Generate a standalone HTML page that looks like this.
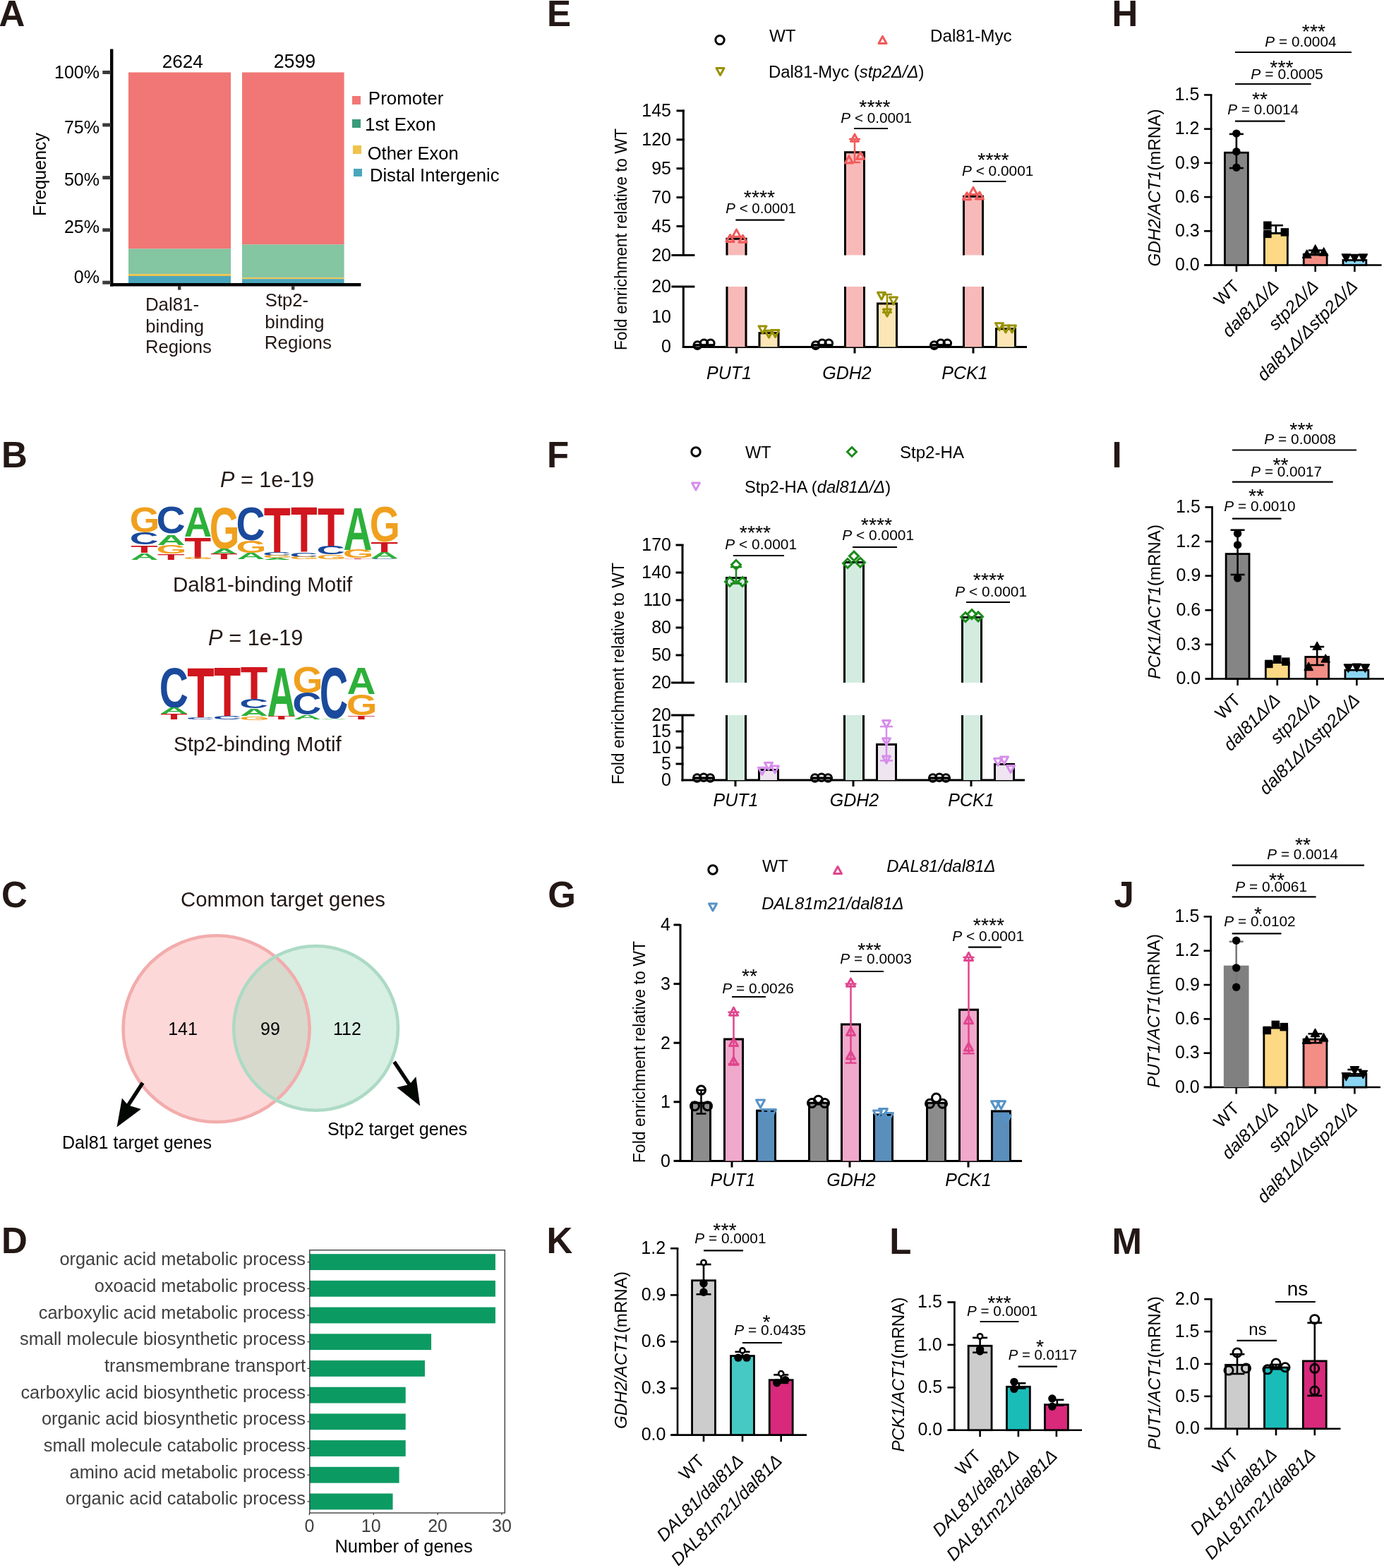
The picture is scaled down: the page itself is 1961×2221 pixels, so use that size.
<!DOCTYPE html>
<html><head><meta charset="utf-8"><title>Figure</title>
<style>
html,body{margin:0;padding:0;background:#fff;width:1961px;height:2221px;overflow:hidden}
svg{display:block}
text{font-family:'Liberation Sans', Arial, Helvetica, sans-serif}
</style></head><body>
<svg width="1961" height="2221" viewBox="0 0 1961 2221">
<rect width="1961" height="2221" fill="#fff"/>
<g>
<text x="-1.5" y="37" font-size="51" fill="#231815" font-weight="bold">A</text>
<rect x="182" y="102.5" width="145" height="250" fill="#F07775"/>
<rect x="182" y="352.4" width="145" height="35.8" fill="#84C5A2"/>
<rect x="182" y="388.2" width="145" height="2.8" fill="#F0C34A"/>
<rect x="182" y="391" width="145" height="10.5" fill="#4AA6BB"/>
<rect x="343" y="102.5" width="144.6" height="244" fill="#F07775"/>
<rect x="343" y="346.4" width="144.6" height="46.8" fill="#84C5A2"/>
<rect x="343" y="393.2" width="144.6" height="2" fill="#F0C34A"/>
<rect x="343" y="395.2" width="144.6" height="6.3" fill="#4AA6BB"/>
<line x1="158.2" y1="69.4" x2="158.2" y2="405.6" stroke="#000" stroke-width="4.4"/>
<line x1="156" y1="403.3" x2="511.4" y2="403.3" stroke="#000" stroke-width="4.6"/>
<line x1="145.3" y1="102.5" x2="157" y2="102.5" stroke="#3a3a3a" stroke-width="5"/>
<line x1="145.3" y1="177" x2="157" y2="177" stroke="#3a3a3a" stroke-width="5"/>
<line x1="145.3" y1="251.6" x2="157" y2="251.6" stroke="#3a3a3a" stroke-width="5"/>
<line x1="145.3" y1="325.8" x2="157" y2="325.8" stroke="#3a3a3a" stroke-width="5"/>
<line x1="145.3" y1="400.2" x2="157" y2="400.2" stroke="#3a3a3a" stroke-width="5"/>
<line x1="254.2" y1="405" x2="254.2" y2="410.6" stroke="#3a3a3a" stroke-width="4.4"/>
<line x1="415.2" y1="405" x2="415.2" y2="410.6" stroke="#3a3a3a" stroke-width="4.4"/>
<text x="141" y="111.1" font-size="25" text-anchor="end">100%</text>
<text x="141" y="189" font-size="25" text-anchor="end">75%</text>
<text x="141" y="263" font-size="25" text-anchor="end">50%</text>
<text x="141" y="330.3" font-size="25" text-anchor="end">25%</text>
<text x="141" y="401" font-size="25" text-anchor="end">0%</text>
<text x="65.3" y="247" font-size="25" text-anchor="middle" transform="rotate(-90 65.3 247)">Frequency</text>
<text x="229.69" y="96" font-size="26.11">2624</text>
<text x="387.65" y="96" font-size="26.8">2599</text>
<text x="205.88" y="440" font-size="25.89" fill="#231815">Dal81-</text>
<text x="206.35" y="471" font-size="25.64" fill="#231815">binding</text>
<text x="205.9" y="500" font-size="25.63" fill="#231815">Regions</text>
<text x="375.84" y="433.6" font-size="25.65" fill="#231815">Stp2-</text>
<text x="375.31" y="465" font-size="26.16" fill="#231815">binding</text>
<text x="374.87" y="494" font-size="25.91" fill="#231815">Regions</text>
<rect x="499" y="136" width="12" height="12" fill="#F07775"/>
<rect x="499" y="169" width="12" height="12" fill="#3A9B7A"/>
<rect x="500" y="206" width="12" height="12" fill="#F0C34A"/>
<rect x="501" y="239" width="12" height="11" fill="#4AA6BB"/>
<text x="521.87" y="148" font-size="25.91">Promoter</text>
<text x="517.03" y="185" font-size="25.87">1st Exon</text>
<text x="520.79" y="226" font-size="25.48">Other Exon</text>
<text x="523.9" y="257" font-size="25.63">Distal Intergenic</text>
</g>
<g>
<text x="2" y="662" font-size="51" fill="#231815" font-weight="bold">B</text>
<text transform="translate(183.75 753.80) scale(0.5483 0.5085)" font-size="100" font-weight="bold" fill="#F0A01E">G</text>
<text transform="translate(183.68 770.77) scale(0.5659 0.2330)" font-size="100" font-weight="bold" fill="#1A4A9C">C</text>
<text transform="translate(185.29 782.50) scale(0.6283 0.1555)" font-size="100" font-weight="bold" fill="#D0161E">T</text>
<text transform="translate(184.63 792.50) scale(0.5515 0.1235)" font-size="100" font-weight="bold" fill="#2DB03A">A</text>
<text transform="translate(221.47 755.47) scale(0.5690 0.5410)" font-size="100" font-weight="bold" fill="#1A4A9C">C</text>
<text transform="translate(222.42 771.50) scale(0.5545 0.2108)" font-size="100" font-weight="bold" fill="#2DB03A">A</text>
<text transform="translate(221.54 783.55) scale(0.5513 0.1568)" font-size="100" font-weight="bold" fill="#F0A01E">G</text>
<text transform="translate(223.09 792.50) scale(0.6317 0.1177)" font-size="100" font-weight="bold" fill="#D0161E">T</text>
<text transform="translate(260.64 759.80) scale(0.5455 0.5959)" font-size="100" font-weight="bold" fill="#2DB03A">A</text>
<text transform="translate(261.30 790.50) scale(0.6215 0.4288)" font-size="100" font-weight="bold" fill="#D0161E">T</text>
<text transform="translate(259.78 792.28) scale(0.5424 0.0254)" font-size="100" font-weight="bold" fill="#F0A01E">G</text>
<text transform="translate(296.75 776.79) scale(0.5483 0.8305)" font-size="100" font-weight="bold" fill="#F0A01E">G</text>
<text transform="translate(297.63 784.80) scale(0.5515 0.1017)" font-size="100" font-weight="bold" fill="#2DB03A">A</text>
<text transform="translate(298.29 792.00) scale(0.6283 0.1032)" font-size="100" font-weight="bold" fill="#D0161E">T</text>
<text transform="translate(334.47 764.75) scale(0.5690 0.6652)" font-size="100" font-weight="bold" fill="#1A4A9C">C</text>
<text transform="translate(334.54 782.77) scale(0.5513 0.2401)" font-size="100" font-weight="bold" fill="#F0A01E">G</text>
<text transform="translate(335.42 792.00) scale(0.5545 0.1279)" font-size="100" font-weight="bold" fill="#2DB03A">A</text>
<text transform="translate(373.70 782.50) scale(0.6215 0.9084)" font-size="100" font-weight="bold" fill="#D0161E">T</text>
<text transform="translate(372.10 786.94) scale(0.5598 0.0636)" font-size="100" font-weight="bold" fill="#1A4A9C">C</text>
<text transform="translate(372.18 790.16) scale(0.5424 0.0452)" font-size="100" font-weight="bold" fill="#F0A01E">G</text>
<text transform="translate(373.04 792.50) scale(0.5455 0.0320)" font-size="100" font-weight="bold" fill="#2DB03A">A</text>
<text transform="translate(412.01 782.00) scale(0.6164 0.9012)" font-size="100" font-weight="bold" fill="#D0161E">T</text>
<text transform="translate(410.42 788.51) scale(0.5552 0.0932)" font-size="100" font-weight="bold" fill="#1A4A9C">C</text>
<text transform="translate(410.49 791.95) scale(0.5379 0.0480)" font-size="100" font-weight="bold" fill="#F0A01E">G</text>
<text transform="translate(450.00 773.70) scale(0.6249 0.7805)" font-size="100" font-weight="bold" fill="#D0161E">T</text>
<text transform="translate(448.39 785.14) scale(0.5629 0.1638)" font-size="100" font-weight="bold" fill="#1A4A9C">C</text>
<text transform="translate(448.46 791.92) scale(0.5453 0.0847)" font-size="100" font-weight="bold" fill="#F0A01E">G</text>
<text transform="translate(486.59 778.70) scale(0.5664 0.8532)" font-size="100" font-weight="bold" fill="#2DB03A">A</text>
<text transform="translate(485.69 790.14) scale(0.5631 0.1596)" font-size="100" font-weight="bold" fill="#F0A01E">G</text>
<text transform="translate(487.28 792.00) scale(0.6453 0.0247)" font-size="100" font-weight="bold" fill="#D0161E">T</text>
<text transform="translate(523.73 766.91) scale(0.5542 0.7048)" font-size="100" font-weight="bold" fill="#F0A01E">G</text>
<text transform="translate(525.29 782.00) scale(0.6351 0.2093)" font-size="100" font-weight="bold" fill="#D0161E">T</text>
<text transform="translate(524.61 791.40) scale(0.5575 0.1294)" font-size="100" font-weight="bold" fill="#2DB03A">A</text>
<text transform="translate(523.65 792.48) scale(0.5720 0.0155)" font-size="100" font-weight="bold" fill="#1A4A9C">C</text>
<text transform="translate(225.67 1001.62) scale(0.5690 0.7966)" font-size="100" font-weight="bold" fill="#1A4A9C">C</text>
<text transform="translate(226.62 1010.80) scale(0.5545 0.1221)" font-size="100" font-weight="bold" fill="#2DB03A">A</text>
<text transform="translate(227.29 1018.80) scale(0.6317 0.1163)" font-size="100" font-weight="bold" fill="#D0161E">T</text>
<text transform="translate(265.29 1015.70) scale(0.6283 0.9986)" font-size="100" font-weight="bold" fill="#D0161E">T</text>
<text transform="translate(263.68 1018.76) scale(0.5659 0.0438)" font-size="100" font-weight="bold" fill="#1A4A9C">C</text>
<text transform="translate(303.10 1014.00) scale(0.6249 0.9739)" font-size="100" font-weight="bold" fill="#D0161E">T</text>
<text transform="translate(301.49 1018.73) scale(0.5629 0.0678)" font-size="100" font-weight="bold" fill="#1A4A9C">C</text>
<text transform="translate(340.79 990.00) scale(0.6317 0.6395)" font-size="100" font-weight="bold" fill="#D0161E">T</text>
<text transform="translate(339.17 1003.12) scale(0.5690 0.1879)" font-size="100" font-weight="bold" fill="#1A4A9C">C</text>
<text transform="translate(340.12 1014.00) scale(0.5545 0.1497)" font-size="100" font-weight="bold" fill="#2DB03A">A</text>
<text transform="translate(339.24 1019.63) scale(0.5513 0.0763)" font-size="100" font-weight="bold" fill="#F0A01E">G</text>
<text transform="translate(378.50 1014.00) scale(0.5619 0.9739)" font-size="100" font-weight="bold" fill="#2DB03A">A</text>
<text transform="translate(379.18 1018.80) scale(0.6402 0.0698)" font-size="100" font-weight="bold" fill="#D0161E">T</text>
<text transform="translate(414.43 981.00) scale(0.5528 0.5127)" font-size="100" font-weight="bold" fill="#F0A01E">G</text>
<text transform="translate(414.36 1012.17) scale(0.5705 0.4393)" font-size="100" font-weight="bold" fill="#1A4A9C">C</text>
<text transform="translate(415.32 1018.80) scale(0.5560 0.0901)" font-size="100" font-weight="bold" fill="#2DB03A">A</text>
<text transform="translate(452.70 1017.01) scale(0.5598 1.0169)" font-size="100" font-weight="bold" fill="#1A4A9C">C</text>
<text transform="translate(453.64 1019.00) scale(0.5455 0.0218)" font-size="100" font-weight="bold" fill="#2DB03A">A</text>
<text transform="translate(491.59 983.00) scale(0.5664 0.5378)" font-size="100" font-weight="bold" fill="#2DB03A">A</text>
<text transform="translate(490.69 1013.09) scale(0.5631 0.4195)" font-size="100" font-weight="bold" fill="#F0A01E">G</text>
<text transform="translate(492.28 1018.80) scale(0.6453 0.0770)" font-size="100" font-weight="bold" fill="#D0161E">T</text>
<text x="312.06" y="690" font-size="30.56" fill="#231815"><tspan font-style="italic">P</tspan><tspan> = 1e-19</tspan></text>
<text x="245" y="838.4" font-size="29.5" fill="#231815">Dal81-binding Motif</text>
<text x="295.05" y="914" font-size="30.8" fill="#231815"><tspan font-style="italic">P</tspan><tspan> = 1e-19</tspan></text>
<text x="246" y="1064" font-size="29.5" fill="#231815">Stp2-binding Motif</text>
</g>
<g>
<text x="2" y="1285" font-size="51" fill="#231815" font-weight="bold">C</text>
<text x="401" y="1284" font-size="29.3" text-anchor="middle" fill="#231815">Common target genes</text>
<circle cx="306.6" cy="1457.3" r="132" fill="#FDD8D8"/>
<circle cx="447.6" cy="1456.4" r="116.4" fill="#A8DCC0" fill-opacity="0.45"/>
<circle cx="306.6" cy="1457.3" r="132" fill="none" stroke="#F2ACAC" stroke-width="4.6"/>
<circle cx="447.6" cy="1456.4" r="116.4" fill="none" stroke="#ACDAC4" stroke-width="4.6"/>
<text x="259" y="1466" font-size="25" text-anchor="middle">141</text>
<text x="383" y="1466" font-size="25" text-anchor="middle">99</text>
<text x="492" y="1466" font-size="25" text-anchor="middle">112</text>
<line x1="202.2" y1="1533.7" x2="180" y2="1568" stroke="#030803" stroke-width="5.3"/>
<polygon points="172.9,1555.6 181.5,1565.4 199.8,1570.9 165.6,1596.5" fill="#030803"/>
<line x1="558.6" y1="1504" x2="582" y2="1539" stroke="#030803" stroke-width="5.3"/>
<polygon points="589.4,1525 580.3,1535.9 562.2,1540.3 595.2,1566.5" fill="#030803"/>
<text x="88" y="1627" font-size="25.1">Dal81 target genes</text>
<text x="464" y="1608" font-size="25.1">Stp2 target genes</text>
</g>
<g>
<text x="2" y="1775" font-size="51" fill="#231815" font-weight="bold">D</text>
<rect x="438.8" y="1776.2" width="263.12" height="22.8" fill="#0C9A63"/>
<line x1="435.4" y1="1787.6" x2="438.8" y2="1787.6" stroke="#333" stroke-width="1.2"/>
<text x="433" y="1792.1" font-size="25.4" text-anchor="end" fill="#404040">organic acid metabolic process</text>
<rect x="438.8" y="1813.9" width="263.12" height="22.8" fill="#0C9A63"/>
<line x1="435.4" y1="1825.3" x2="438.8" y2="1825.3" stroke="#333" stroke-width="1.2"/>
<text x="433" y="1829.8" font-size="25.4" text-anchor="end" fill="#404040">oxoacid metabolic process</text>
<rect x="438.8" y="1851.6" width="263.12" height="22.8" fill="#0C9A63"/>
<line x1="435.4" y1="1863" x2="438.8" y2="1863" stroke="#333" stroke-width="1.2"/>
<text x="433" y="1867.5" font-size="25.4" text-anchor="end" fill="#404040">carboxylic acid metabolic process</text>
<rect x="438.8" y="1889.3" width="172.25" height="22.8" fill="#0C9A63"/>
<line x1="435.4" y1="1900.7" x2="438.8" y2="1900.7" stroke="#333" stroke-width="1.2"/>
<text x="433" y="1905.2" font-size="25.4" text-anchor="end" fill="#404040">small molecule biosynthetic process</text>
<rect x="438.8" y="1927" width="163.17" height="22.8" fill="#0C9A63"/>
<line x1="435.4" y1="1938.4" x2="438.8" y2="1938.4" stroke="#333" stroke-width="1.2"/>
<text x="433" y="1942.9" font-size="25.4" text-anchor="end" fill="#404040">transmembrane transport</text>
<rect x="438.8" y="1964.7" width="135.91" height="22.8" fill="#0C9A63"/>
<line x1="435.4" y1="1976.1" x2="438.8" y2="1976.1" stroke="#333" stroke-width="1.2"/>
<text x="433" y="1980.6" font-size="25.4" text-anchor="end" fill="#404040">carboxylic acid biosynthetic process</text>
<rect x="438.8" y="2002.4" width="135.91" height="22.8" fill="#0C9A63"/>
<line x1="435.4" y1="2013.8" x2="438.8" y2="2013.8" stroke="#333" stroke-width="1.2"/>
<text x="433" y="2018.3" font-size="25.4" text-anchor="end" fill="#404040">organic acid biosynthetic process</text>
<rect x="438.8" y="2040.1" width="135.91" height="22.8" fill="#0C9A63"/>
<line x1="435.4" y1="2051.5" x2="438.8" y2="2051.5" stroke="#333" stroke-width="1.2"/>
<text x="433" y="2056" font-size="25.4" text-anchor="end" fill="#404040">small molecule catabolic process</text>
<rect x="438.8" y="2077.8" width="126.82" height="22.8" fill="#0C9A63"/>
<line x1="435.4" y1="2089.2" x2="438.8" y2="2089.2" stroke="#333" stroke-width="1.2"/>
<text x="433" y="2093.7" font-size="25.4" text-anchor="end" fill="#404040">amino acid metabolic process</text>
<rect x="438.8" y="2115.5" width="117.73" height="22.8" fill="#0C9A63"/>
<line x1="435.4" y1="2126.9" x2="438.8" y2="2126.9" stroke="#333" stroke-width="1.2"/>
<text x="433" y="2131.4" font-size="25.4" text-anchor="end" fill="#404040">organic acid catabolic process</text>
<rect x="438.8" y="1770.7" width="276.5" height="372.3" fill="none" stroke="#333" stroke-width="1.3"/>
<line x1="438.4" y1="2143" x2="438.4" y2="2146" stroke="#333" stroke-width="1.2"/>
<text x="438.4" y="2170" font-size="25" text-anchor="middle" fill="#404040">0</text>
<line x1="529.27" y1="2143" x2="529.27" y2="2146" stroke="#333" stroke-width="1.2"/>
<text x="525.77" y="2170" font-size="25" text-anchor="middle" fill="#404040">10</text>
<line x1="620.14" y1="2143" x2="620.14" y2="2146" stroke="#333" stroke-width="1.2"/>
<text x="620.14" y="2170" font-size="25" text-anchor="middle" fill="#404040">20</text>
<line x1="711.01" y1="2143" x2="711.01" y2="2146" stroke="#333" stroke-width="1.2"/>
<text x="711.01" y="2170" font-size="25" text-anchor="middle" fill="#404040">30</text>
<text x="474.41" y="2199" font-size="25.46">Number of genes</text>
</g>
<g>
<text x="774.98" y="37" font-size="51" fill="#231815" font-weight="bold">E</text>
<circle cx="1020" cy="56.6" r="6.2" fill="#fff" stroke="#000" stroke-width="3"/>
<polygon points="1250.5,51.5 1245,61.5 1256,61.5" fill="none" stroke="#F15A5A" stroke-width="3" stroke-linejoin="round"/>
<polygon points="1020.5,106.5 1015,96.5 1026,96.5" fill="none" stroke="#999100" stroke-width="3" stroke-linejoin="round"/>
<text x="1089.89" y="58.6" font-size="24.23">WT</text>
<text x="1318.02" y="59" font-size="24.19">Dal81-Myc</text>
<text x="1089.04" y="110" font-size="23.88"><tspan>Dal81-Myc (</tspan><tspan font-style="italic">stp2Δ/Δ</tspan><tspan>)</tspan></text>
<line x1="968.3" y1="155.6" x2="968.3" y2="361.4" stroke="#000" stroke-width="3"/>
<line x1="968.3" y1="406" x2="968.3" y2="492.9" stroke="#000" stroke-width="3"/>
<line x1="958.5" y1="156.9" x2="969.8" y2="156.9" stroke="#000" stroke-width="3"/>
<line x1="958.5" y1="197.8" x2="969.8" y2="197.8" stroke="#000" stroke-width="3"/>
<line x1="958.5" y1="238.7" x2="969.8" y2="238.7" stroke="#000" stroke-width="3"/>
<line x1="958.5" y1="279.6" x2="969.8" y2="279.6" stroke="#000" stroke-width="3"/>
<line x1="958.5" y1="320.5" x2="969.8" y2="320.5" stroke="#000" stroke-width="3"/>
<line x1="951.4" y1="361.4" x2="984.4" y2="361.4" stroke="#000" stroke-width="3"/>
<line x1="951.4" y1="406" x2="984.4" y2="406" stroke="#000" stroke-width="3"/>
<line x1="966.8" y1="491.4" x2="1455" y2="491.4" stroke="#000" stroke-width="3"/>
<text x="951" y="165.2" font-size="25" text-anchor="end">145</text>
<text x="951" y="206.1" font-size="25" text-anchor="end">120</text>
<text x="951" y="247" font-size="25" text-anchor="end">95</text>
<text x="951" y="287.9" font-size="25" text-anchor="end">70</text>
<text x="951" y="328.8" font-size="25" text-anchor="end">45</text>
<text x="951" y="369.7" font-size="25" text-anchor="end">20</text>
<text x="951" y="414.4" font-size="25" text-anchor="end">20</text>
<text x="951" y="456.9" font-size="25" text-anchor="end">10</text>
<text x="951" y="499.4" font-size="25" text-anchor="end">0</text>
<text x="888" y="339" font-size="23.1" text-anchor="middle" transform="rotate(-90 888 339)">Fold enrichment relative to WT</text>
<line x1="1043.5" y1="491.4" x2="1043.5" y2="500.5" stroke="#000" stroke-width="3"/>
<rect x="982.5" y="487.15" width="30" height="4.25" fill="#808080"/>
<path d="M984 491.4 L984 488.65 L1011 488.65 L1011 491.4" fill="none" stroke="#000" stroke-width="3" stroke-linejoin="miter"/>
<rect x="1028.5" y="336.86" width="30" height="24.54" fill="#F8BAB8"/>
<path d="M1030 361.4 L1030 338.36 L1057 338.36 L1057 361.4" fill="none" stroke="#000" stroke-width="3" stroke-linejoin="miter"/>
<rect x="1028.5" y="406" width="30" height="85.4" fill="#F8BAB8"/>
<path d="M1030 491.4 L1030 406 M1057 406 L1057 491.4" fill="none" stroke="#000" stroke-width="3" stroke-linejoin="miter"/>
<rect x="1074.5" y="470.15" width="30" height="21.25" fill="#FCE6B6"/>
<path d="M1076 491.4 L1076 471.65 L1103 471.65 L1103 491.4" fill="none" stroke="#000" stroke-width="3" stroke-linejoin="miter"/>
<circle cx="988.2" cy="489.1" r="5.3" fill="none" stroke="#000" stroke-width="3"/>
<circle cx="997.5" cy="486.3" r="5.3" fill="none" stroke="#000" stroke-width="3"/>
<circle cx="1006.8" cy="486.3" r="5.3" fill="none" stroke="#000" stroke-width="3"/>
<polygon points="1043.5,325.13 1038,335.13 1049,335.13" fill="none" stroke="#F15A5A" stroke-width="3" stroke-linejoin="round"/>
<polygon points="1034.5,332.5 1029,342.5 1040,342.5" fill="none" stroke="#F15A5A" stroke-width="3" stroke-linejoin="round"/>
<polygon points="1052.5,333.31 1047,343.31 1058,343.31" fill="none" stroke="#F15A5A" stroke-width="3" stroke-linejoin="round"/>
<polygon points="1080.5,471.9 1075,461.9 1086,461.9" fill="none" stroke="#999100" stroke-width="3" stroke-linejoin="round"/>
<polygon points="1089.5,478.27 1084,468.27 1095,468.27" fill="none" stroke="#999100" stroke-width="3" stroke-linejoin="round"/>
<polygon points="1098.5,477.42 1093,467.42 1104,467.42" fill="none" stroke="#999100" stroke-width="3" stroke-linejoin="round"/>
<line x1="1211" y1="491.4" x2="1211" y2="500.5" stroke="#000" stroke-width="3"/>
<rect x="1150" y="487.15" width="30" height="4.25" fill="#808080"/>
<path d="M1151.5 491.4 L1151.5 488.65 L1178.5 488.65 L1178.5 491.4" fill="none" stroke="#000" stroke-width="3" stroke-linejoin="miter"/>
<rect x="1196" y="214.32" width="30" height="147.08" fill="#F8BAB8"/>
<path d="M1197.5 361.4 L1197.5 215.82 L1224.5 215.82 L1224.5 361.4" fill="none" stroke="#000" stroke-width="3" stroke-linejoin="miter"/>
<rect x="1196" y="406" width="30" height="85.4" fill="#F8BAB8"/>
<path d="M1197.5 491.4 L1197.5 406 M1224.5 406 L1224.5 491.4" fill="none" stroke="#000" stroke-width="3" stroke-linejoin="miter"/>
<rect x="1242" y="428.5" width="30" height="62.9" fill="#FCE6B6"/>
<path d="M1243.5 491.4 L1243.5 430 L1270.5 430 L1270.5 491.4" fill="none" stroke="#000" stroke-width="3" stroke-linejoin="miter"/>
<circle cx="1155.7" cy="489.1" r="5.3" fill="none" stroke="#000" stroke-width="3"/>
<circle cx="1165" cy="486.3" r="5.3" fill="none" stroke="#000" stroke-width="3"/>
<circle cx="1174.3" cy="486.3" r="5.3" fill="none" stroke="#000" stroke-width="3"/>
<line x1="1211" y1="196.98" x2="1211" y2="230.03" stroke="#F15A5A" stroke-width="2.5"/>
<line x1="1203" y1="196.98" x2="1219" y2="196.98" stroke="#F15A5A" stroke-width="2.5"/>
<line x1="1203" y1="230.03" x2="1219" y2="230.03" stroke="#F15A5A" stroke-width="2.5"/>
<polygon points="1211,190.16 1205.5,200.16 1216.5,200.16" fill="none" stroke="#F15A5A" stroke-width="3" stroke-linejoin="round"/>
<polygon points="1202.9,220.92 1197.4,230.92 1208.4,230.92" fill="none" stroke="#F15A5A" stroke-width="3" stroke-linejoin="round"/>
<polygon points="1219.1,215.36 1213.6,225.36 1224.6,225.36" fill="none" stroke="#F15A5A" stroke-width="3" stroke-linejoin="round"/>
<line x1="1257" y1="417.02" x2="1257" y2="442.52" stroke="#999100" stroke-width="2.5"/>
<line x1="1250" y1="417.02" x2="1264" y2="417.02" stroke="#999100" stroke-width="2.5"/>
<line x1="1250" y1="442.52" x2="1264" y2="442.52" stroke="#999100" stroke-width="2.5"/>
<polygon points="1249,424.3 1243.5,414.3 1254.5,414.3" fill="none" stroke="#999100" stroke-width="3" stroke-linejoin="round"/>
<polygon points="1266,431.1 1260.5,421.1 1271.5,421.1" fill="none" stroke="#999100" stroke-width="3" stroke-linejoin="round"/>
<polygon points="1257,448.1 1251.5,438.1 1262.5,438.1" fill="none" stroke="#999100" stroke-width="3" stroke-linejoin="round"/>
<line x1="1379" y1="491.4" x2="1379" y2="500.5" stroke="#000" stroke-width="3"/>
<rect x="1318" y="487.15" width="30" height="4.25" fill="#808080"/>
<path d="M1319.5 491.4 L1319.5 488.65 L1346.5 488.65 L1346.5 491.4" fill="none" stroke="#000" stroke-width="3" stroke-linejoin="miter"/>
<rect x="1364" y="276.66" width="30" height="84.74" fill="#F8BAB8"/>
<path d="M1365.5 361.4 L1365.5 278.16 L1392.5 278.16 L1392.5 361.4" fill="none" stroke="#000" stroke-width="3" stroke-linejoin="miter"/>
<rect x="1364" y="406" width="30" height="85.4" fill="#F8BAB8"/>
<path d="M1365.5 491.4 L1365.5 406 M1392.5 406 L1392.5 491.4" fill="none" stroke="#000" stroke-width="3" stroke-linejoin="miter"/>
<rect x="1410" y="464.2" width="30" height="27.2" fill="#FCE6B6"/>
<path d="M1411.5 491.4 L1411.5 465.7 L1438.5 465.7 L1438.5 491.4" fill="none" stroke="#000" stroke-width="3" stroke-linejoin="miter"/>
<circle cx="1323.7" cy="489.1" r="5.3" fill="none" stroke="#000" stroke-width="3"/>
<circle cx="1333" cy="486.3" r="5.3" fill="none" stroke="#000" stroke-width="3"/>
<circle cx="1342.3" cy="486.3" r="5.3" fill="none" stroke="#000" stroke-width="3"/>
<polygon points="1379,265.42 1373.5,275.42 1384.5,275.42" fill="none" stroke="#F15A5A" stroke-width="3" stroke-linejoin="round"/>
<polygon points="1370,272.78 1364.5,282.78 1375.5,282.78" fill="none" stroke="#F15A5A" stroke-width="3" stroke-linejoin="round"/>
<polygon points="1388,271.96 1382.5,281.96 1393.5,281.96" fill="none" stroke="#F15A5A" stroke-width="3" stroke-linejoin="round"/>
<polygon points="1416,467.65 1410.5,457.65 1421.5,457.65" fill="none" stroke="#999100" stroke-width="3" stroke-linejoin="round"/>
<polygon points="1425,471.05 1419.5,461.05 1430.5,461.05" fill="none" stroke="#999100" stroke-width="3" stroke-linejoin="round"/>
<polygon points="1434,471.05 1428.5,461.05 1439.5,461.05" fill="none" stroke="#999100" stroke-width="3" stroke-linejoin="round"/>
<text x="1076" y="288.61" font-size="28.5" text-anchor="middle">****</text>
<text x="1028.37" y="302" font-size="20.48"><tspan font-style="italic">P</tspan><tspan> &lt; 0.0001</tspan></text>
<line x1="1042.4" y1="311.6" x2="1111.6" y2="311.6" stroke="#000" stroke-width="2.2"/>
<text x="1239.5" y="160.61" font-size="28.5" text-anchor="middle">****</text>
<text x="1191.36" y="174" font-size="20.69"><tspan font-style="italic">P</tspan><tspan> &lt; 0.0001</tspan></text>
<line x1="1210" y1="182" x2="1258" y2="182" stroke="#000" stroke-width="2.2"/>
<text x="1407.5" y="235.61" font-size="28.5" text-anchor="middle">****</text>
<text x="1362.96" y="248.6" font-size="20.85"><tspan font-style="italic">P</tspan><tspan> &lt; 0.0001</tspan></text>
<line x1="1378" y1="257" x2="1425.4" y2="257" stroke="#000" stroke-width="2.2"/>
<text x="1033" y="537.4" font-size="25" text-anchor="middle" font-style="italic">PUT1</text>
<text x="1200" y="537.4" font-size="25" text-anchor="middle" font-style="italic">GDH2</text>
<text x="1367" y="537.4" font-size="25" text-anchor="middle" font-style="italic">PCK1</text>
</g>
<g>
<text x="774.98" y="662" font-size="51" fill="#231815" font-weight="bold">F</text>
<circle cx="986" cy="640" r="6.2" fill="#fff" stroke="#000" stroke-width="3"/>
<polygon points="1207,633.5 1213.5,640 1207,646.5 1200.5,640" fill="none" stroke="#1B8C1B" stroke-width="3"/>
<polygon points="986,694 980.5,684 991.5,684" fill="none" stroke="#D68EEA" stroke-width="3" stroke-linejoin="round"/>
<text x="1055.9" y="648.8" font-size="23.57">WT</text>
<text x="1274.9" y="648.8" font-size="24.12">Stp2-HA</text>
<text x="1054.92" y="698" font-size="23.73"><tspan>Stp2-HA (</tspan><tspan font-style="italic">dal81Δ/Δ</tspan><tspan>)</tspan></text>
<line x1="967" y1="771" x2="967" y2="967" stroke="#000" stroke-width="3"/>
<line x1="967" y1="1013" x2="967" y2="1106.5" stroke="#000" stroke-width="3"/>
<line x1="957.5" y1="772" x2="968.5" y2="772" stroke="#000" stroke-width="3"/>
<line x1="957.5" y1="811" x2="968.5" y2="811" stroke="#000" stroke-width="3"/>
<line x1="957.5" y1="850" x2="968.5" y2="850" stroke="#000" stroke-width="3"/>
<line x1="957.5" y1="889" x2="968.5" y2="889" stroke="#000" stroke-width="3"/>
<line x1="957.5" y1="928" x2="968.5" y2="928" stroke="#000" stroke-width="3"/>
<line x1="957.5" y1="1036" x2="968.5" y2="1036" stroke="#000" stroke-width="3"/>
<line x1="957.5" y1="1059" x2="968.5" y2="1059" stroke="#000" stroke-width="3"/>
<line x1="957.5" y1="1082" x2="968.5" y2="1082" stroke="#000" stroke-width="3"/>
<line x1="951" y1="967" x2="984" y2="967" stroke="#000" stroke-width="3"/>
<line x1="951" y1="1013" x2="984" y2="1013" stroke="#000" stroke-width="3"/>
<line x1="965.5" y1="1105" x2="1452" y2="1105" stroke="#000" stroke-width="3"/>
<text x="951" y="780.3" font-size="25" text-anchor="end">170</text>
<text x="951" y="819.3" font-size="25" text-anchor="end">140</text>
<text x="951" y="858.3" font-size="25" text-anchor="end">110</text>
<text x="951" y="897.3" font-size="25" text-anchor="end">80</text>
<text x="951" y="936.3" font-size="25" text-anchor="end">50</text>
<text x="951" y="975.3" font-size="25" text-anchor="end">20</text>
<text x="951" y="1021.3" font-size="25" text-anchor="end">20</text>
<text x="951" y="1044.3" font-size="25" text-anchor="end">15</text>
<text x="951" y="1067.3" font-size="25" text-anchor="end">10</text>
<text x="951" y="1090.3" font-size="25" text-anchor="end">5</text>
<text x="951" y="1113.3" font-size="25" text-anchor="end">0</text>
<text x="884" y="954" font-size="23.1" text-anchor="middle" transform="rotate(-90 884 954)">Fold enrichment relative to WT</text>
<line x1="1042" y1="1105" x2="1042" y2="1114" stroke="#000" stroke-width="3"/>
<rect x="982" y="1100.4" width="30" height="4.6" fill="#808080"/>
<path d="M983.5 1105 L983.5 1101.9 L1010.5 1101.9 L1010.5 1105" fill="none" stroke="#000" stroke-width="3" stroke-linejoin="miter"/>
<rect x="1028" y="816.98" width="30" height="150.02" fill="#D3ECDF"/>
<path d="M1029.5 967 L1029.5 818.48 L1056.5 818.48 L1056.5 967" fill="none" stroke="#000" stroke-width="3" stroke-linejoin="miter"/>
<rect x="1028" y="1013" width="30" height="92" fill="#D3ECDF"/>
<path d="M1029.5 1105 L1029.5 1013 M1056.5 1013 L1056.5 1105" fill="none" stroke="#000" stroke-width="3" stroke-linejoin="miter"/>
<rect x="1074" y="1088.9" width="30" height="16.1" fill="#EFE5F1"/>
<path d="M1075.5 1105 L1075.5 1090.4 L1102.5 1090.4 L1102.5 1105" fill="none" stroke="#000" stroke-width="3" stroke-linejoin="miter"/>
<circle cx="987.7" cy="1102" r="5.3" fill="none" stroke="#000" stroke-width="3"/>
<circle cx="997" cy="1101.2" r="5.3" fill="none" stroke="#000" stroke-width="3"/>
<circle cx="1006.3" cy="1102" r="5.3" fill="none" stroke="#000" stroke-width="3"/>
<line x1="1043" y1="803.2" x2="1043" y2="826.6" stroke="#1B8C1B" stroke-width="2.5"/>
<line x1="1035" y1="803.2" x2="1051" y2="803.2" stroke="#1B8C1B" stroke-width="2.5"/>
<line x1="1035" y1="826.6" x2="1051" y2="826.6" stroke="#1B8C1B" stroke-width="2.5"/>
<polygon points="1043,793.45 1049.5,799.95 1043,806.45 1036.5,799.95" fill="none" stroke="#1B8C1B" stroke-width="3"/>
<polygon points="1034,817.5 1040.5,824 1034,830.5 1027.5,824" fill="none" stroke="#1B8C1B" stroke-width="3"/>
<polygon points="1052,817.5 1058.5,824 1052,830.5 1045.5,824" fill="none" stroke="#1B8C1B" stroke-width="3"/>
<polygon points="1089,1090.3 1083.5,1080.3 1094.5,1080.3" fill="none" stroke="#D68EEA" stroke-width="3" stroke-linejoin="round"/>
<polygon points="1080,1097.2 1074.5,1087.2 1085.5,1087.2" fill="none" stroke="#D68EEA" stroke-width="3" stroke-linejoin="round"/>
<polygon points="1098,1094.9 1092.5,1084.9 1103.5,1084.9" fill="none" stroke="#D68EEA" stroke-width="3" stroke-linejoin="round"/>
<line x1="1209" y1="1105" x2="1209" y2="1114" stroke="#000" stroke-width="3"/>
<rect x="1149" y="1100.4" width="30" height="4.6" fill="#808080"/>
<path d="M1150.5 1105 L1150.5 1101.9 L1177.5 1101.9 L1177.5 1105" fill="none" stroke="#000" stroke-width="3" stroke-linejoin="miter"/>
<rect x="1195" y="795.01" width="30" height="171.99" fill="#D3ECDF"/>
<path d="M1196.5 967 L1196.5 796.51 L1223.5 796.51 L1223.5 967" fill="none" stroke="#000" stroke-width="3" stroke-linejoin="miter"/>
<rect x="1195" y="1013" width="30" height="92" fill="#D3ECDF"/>
<path d="M1196.5 1105 L1196.5 1013 M1223.5 1013 L1223.5 1105" fill="none" stroke="#000" stroke-width="3" stroke-linejoin="miter"/>
<rect x="1241" y="1053.02" width="30" height="51.98" fill="#EFE5F1"/>
<path d="M1242.5 1105 L1242.5 1054.52 L1269.5 1054.52 L1269.5 1105" fill="none" stroke="#000" stroke-width="3" stroke-linejoin="miter"/>
<circle cx="1154.7" cy="1102" r="5.3" fill="none" stroke="#000" stroke-width="3"/>
<circle cx="1164" cy="1101.2" r="5.3" fill="none" stroke="#000" stroke-width="3"/>
<circle cx="1173.3" cy="1102" r="5.3" fill="none" stroke="#000" stroke-width="3"/>
<polygon points="1210,781.1 1216.5,787.6 1210,794.1 1203.5,787.6" fill="none" stroke="#1B8C1B" stroke-width="3"/>
<polygon points="1201,791.5 1207.5,798 1201,804.5 1194.5,798" fill="none" stroke="#1B8C1B" stroke-width="3"/>
<polygon points="1219,790.2 1225.5,796.7 1219,803.2 1212.5,796.7" fill="none" stroke="#1B8C1B" stroke-width="3"/>
<line x1="1256" y1="1029.1" x2="1256" y2="1077.4" stroke="#D68EEA" stroke-width="2.5"/>
<line x1="1247" y1="1029.1" x2="1265" y2="1029.1" stroke="#D68EEA" stroke-width="2.5"/>
<line x1="1247" y1="1077.4" x2="1265" y2="1077.4" stroke="#D68EEA" stroke-width="2.5"/>
<polygon points="1256,1030.5 1250.5,1020.5 1261.5,1020.5" fill="none" stroke="#D68EEA" stroke-width="3" stroke-linejoin="round"/>
<polygon points="1256,1055.8 1250.5,1045.8 1261.5,1045.8" fill="none" stroke="#D68EEA" stroke-width="3" stroke-linejoin="round"/>
<polygon points="1256,1081.1 1250.5,1071.1 1261.5,1071.1" fill="none" stroke="#D68EEA" stroke-width="3" stroke-linejoin="round"/>
<line x1="1376" y1="1105" x2="1376" y2="1114" stroke="#000" stroke-width="3"/>
<rect x="1316" y="1100.4" width="30" height="4.6" fill="#808080"/>
<path d="M1317.5 1105 L1317.5 1101.9 L1344.5 1101.9 L1344.5 1105" fill="none" stroke="#000" stroke-width="3" stroke-linejoin="miter"/>
<rect x="1362" y="873.01" width="30" height="93.99" fill="#D3ECDF"/>
<path d="M1363.5 967 L1363.5 874.51 L1390.5 874.51 L1390.5 967" fill="none" stroke="#000" stroke-width="3" stroke-linejoin="miter"/>
<rect x="1362" y="1013" width="30" height="92" fill="#D3ECDF"/>
<path d="M1363.5 1105 L1363.5 1013 M1390.5 1013 L1390.5 1105" fill="none" stroke="#000" stroke-width="3" stroke-linejoin="miter"/>
<rect x="1408" y="1081.08" width="30" height="23.92" fill="#EFE5F1"/>
<path d="M1409.5 1105 L1409.5 1082.58 L1436.5 1082.58 L1436.5 1105" fill="none" stroke="#000" stroke-width="3" stroke-linejoin="miter"/>
<circle cx="1321.7" cy="1102" r="5.3" fill="none" stroke="#000" stroke-width="3"/>
<circle cx="1331" cy="1101.2" r="5.3" fill="none" stroke="#000" stroke-width="3"/>
<circle cx="1340.3" cy="1102" r="5.3" fill="none" stroke="#000" stroke-width="3"/>
<polygon points="1377,863.65 1383.5,870.15 1377,876.65 1370.5,870.15" fill="none" stroke="#1B8C1B" stroke-width="3"/>
<polygon points="1368,867.55 1374.5,874.05 1368,880.55 1361.5,874.05" fill="none" stroke="#1B8C1B" stroke-width="3"/>
<polygon points="1386,866.9 1392.5,873.4 1386,879.9 1379.5,873.4" fill="none" stroke="#1B8C1B" stroke-width="3"/>
<polygon points="1423,1082.02 1417.5,1072.02 1428.5,1072.02" fill="none" stroke="#D68EEA" stroke-width="3" stroke-linejoin="round"/>
<polygon points="1414,1084.32 1408.5,1074.32 1419.5,1074.32" fill="none" stroke="#D68EEA" stroke-width="3" stroke-linejoin="round"/>
<polygon points="1432,1094.44 1426.5,1084.44 1437.5,1084.44" fill="none" stroke="#D68EEA" stroke-width="3" stroke-linejoin="round"/>
<text x="1070" y="763.61" font-size="28.5" text-anchor="middle">****</text>
<text x="1027.36" y="778" font-size="20.9"><tspan font-style="italic">P</tspan><tspan> &lt; 0.0001</tspan></text>
<line x1="1039" y1="787" x2="1111" y2="787" stroke="#000" stroke-width="2.2"/>
<text x="1242" y="752.61" font-size="28.5" text-anchor="middle">****</text>
<text x="1193.36" y="765" font-size="20.9"><tspan font-style="italic">P</tspan><tspan> &lt; 0.0001</tspan></text>
<line x1="1208" y1="775" x2="1271" y2="775" stroke="#000" stroke-width="2.2"/>
<text x="1401" y="830.61" font-size="28.5" text-anchor="middle">****</text>
<text x="1353.36" y="845" font-size="20.9"><tspan font-style="italic">P</tspan><tspan> &lt; 0.0001</tspan></text>
<line x1="1369" y1="853" x2="1431" y2="853" stroke="#000" stroke-width="2.2"/>
<text x="1042.5" y="1142" font-size="25" text-anchor="middle" font-style="italic">PUT1</text>
<text x="1210.5" y="1142" font-size="25" text-anchor="middle" font-style="italic">GDH2</text>
<text x="1376" y="1142" font-size="25" text-anchor="middle" font-style="italic">PCK1</text>
</g>
<g>
<text x="776.31" y="1285" font-size="51" fill="#231815" font-weight="bold">G</text>
<circle cx="1010" cy="1232" r="6.2" fill="#fff" stroke="#000" stroke-width="3"/>
<polygon points="1187,1227.5 1181.5,1237.5 1192.5,1237.5" fill="none" stroke="#E0458E" stroke-width="3" stroke-linejoin="round"/>
<polygon points="1010,1290 1004.5,1280 1015.5,1280" fill="none" stroke="#5692C6" stroke-width="3" stroke-linejoin="round"/>
<text x="1079.9" y="1235" font-size="23.57">WT</text>
<text x="1256.26" y="1235" font-size="23.93"><tspan font-style="italic">DAL81/dal81Δ</tspan></text>
<text x="1079.26" y="1288" font-size="23.98"><tspan font-style="italic">DAL81m21/dal81Δ</tspan></text>
<line x1="964" y1="1309" x2="964" y2="1645.9" stroke="#000" stroke-width="3"/>
<line x1="954.5" y1="1644.4" x2="964" y2="1644.4" stroke="#000" stroke-width="3"/>
<text x="950" y="1652.7" font-size="25" text-anchor="end">0</text>
<line x1="954.5" y1="1560.8" x2="964" y2="1560.8" stroke="#000" stroke-width="3"/>
<text x="950" y="1569.1" font-size="25" text-anchor="end">1</text>
<line x1="954.5" y1="1477.2" x2="964" y2="1477.2" stroke="#000" stroke-width="3"/>
<text x="950" y="1485.5" font-size="25" text-anchor="end">2</text>
<line x1="954.5" y1="1393.6" x2="964" y2="1393.6" stroke="#000" stroke-width="3"/>
<text x="950" y="1401.9" font-size="25" text-anchor="end">3</text>
<line x1="954.5" y1="1310" x2="964" y2="1310" stroke="#000" stroke-width="3"/>
<text x="950" y="1318.3" font-size="25" text-anchor="end">4</text>
<line x1="962.5" y1="1644.4" x2="1448" y2="1644.4" stroke="#000" stroke-width="3"/>
<text x="913.5" y="1490" font-size="23.1" text-anchor="middle" transform="rotate(-90 913.5 1490)">Fold enrichment relative to WT</text>
<line x1="1037" y1="1644.4" x2="1037" y2="1653.5" stroke="#000" stroke-width="3"/>
<rect x="979" y="1560.8" width="29" height="83.6" fill="#8C8C8C"/>
<path d="M980.5 1644.4 L980.5 1562.3 L1006.5 1562.3 L1006.5 1644.4" fill="none" stroke="#000" stroke-width="3" stroke-linejoin="miter"/>
<rect x="1025" y="1470.51" width="29" height="173.89" fill="#F0A8CB"/>
<path d="M1026.5 1644.4 L1026.5 1472.01 L1052.5 1472.01 L1052.5 1644.4" fill="none" stroke="#000" stroke-width="3" stroke-linejoin="miter"/>
<rect x="1071" y="1571.67" width="29" height="72.73" fill="#5A8FBB"/>
<path d="M1072.5 1644.4 L1072.5 1573.17 L1098.5 1573.17 L1098.5 1644.4" fill="none" stroke="#000" stroke-width="3" stroke-linejoin="miter"/>
<line x1="993.5" y1="1544.08" x2="993.5" y2="1577.52" stroke="#000" stroke-width="2.5"/>
<line x1="986.5" y1="1544.08" x2="1000.5" y2="1544.08" stroke="#000" stroke-width="2.5"/>
<line x1="986.5" y1="1577.52" x2="1000.5" y2="1577.52" stroke="#000" stroke-width="2.5"/>
<circle cx="993.5" cy="1544.08" r="6" fill="none" stroke="#000" stroke-width="3"/>
<circle cx="984.5" cy="1566.65" r="6" fill="none" stroke="#000" stroke-width="3"/>
<circle cx="1002.5" cy="1566.65" r="6" fill="none" stroke="#000" stroke-width="3"/>
<line x1="1039.5" y1="1433.73" x2="1039.5" y2="1507.3" stroke="#E0458E" stroke-width="2.5"/>
<line x1="1031.5" y1="1433.73" x2="1047.5" y2="1433.73" stroke="#E0458E" stroke-width="2.5"/>
<line x1="1031.5" y1="1507.3" x2="1047.5" y2="1507.3" stroke="#E0458E" stroke-width="2.5"/>
<polygon points="1039.5,1427.13 1033.5,1438.13 1045.5,1438.13" fill="none" stroke="#E0458E" stroke-width="3" stroke-linejoin="round"/>
<polygon points="1039.5,1470.6 1033.5,1481.6 1045.5,1481.6" fill="none" stroke="#E0458E" stroke-width="3" stroke-linejoin="round"/>
<polygon points="1039.5,1497.35 1033.5,1508.35 1045.5,1508.35" fill="none" stroke="#E0458E" stroke-width="3" stroke-linejoin="round"/>
<polygon points="1077.5,1569.07 1071.5,1558.07 1083.5,1558.07" fill="none" stroke="#5692C6" stroke-width="3" stroke-linejoin="round"/>
<polygon points="1085.5,1582.45 1079.5,1571.45 1091.5,1571.45" fill="none" stroke="#5692C6" stroke-width="3" stroke-linejoin="round"/>
<polygon points="1093.5,1582.45 1087.5,1571.45 1099.5,1571.45" fill="none" stroke="#5692C6" stroke-width="3" stroke-linejoin="round"/>
<line x1="1204" y1="1644.4" x2="1204" y2="1653.5" stroke="#000" stroke-width="3"/>
<rect x="1145" y="1560.8" width="29" height="83.6" fill="#8C8C8C"/>
<path d="M1146.5 1644.4 L1146.5 1562.3 L1172.5 1562.3 L1172.5 1644.4" fill="none" stroke="#000" stroke-width="3" stroke-linejoin="miter"/>
<rect x="1191" y="1449.61" width="29" height="194.79" fill="#F0A8CB"/>
<path d="M1192.5 1644.4 L1192.5 1451.11 L1218.5 1451.11 L1218.5 1644.4" fill="none" stroke="#000" stroke-width="3" stroke-linejoin="miter"/>
<rect x="1237" y="1577.52" width="29" height="66.88" fill="#5A8FBB"/>
<path d="M1238.5 1644.4 L1238.5 1579.02 L1264.5 1579.02 L1264.5 1644.4" fill="none" stroke="#000" stroke-width="3" stroke-linejoin="miter"/>
<circle cx="1159.5" cy="1558.29" r="6" fill="none" stroke="#000" stroke-width="3"/>
<circle cx="1150.5" cy="1562.47" r="6" fill="none" stroke="#000" stroke-width="3"/>
<circle cx="1168.5" cy="1562.47" r="6" fill="none" stroke="#000" stroke-width="3"/>
<line x1="1205.5" y1="1393.6" x2="1205.5" y2="1505.62" stroke="#E0458E" stroke-width="2.5"/>
<line x1="1197.5" y1="1393.6" x2="1213.5" y2="1393.6" stroke="#E0458E" stroke-width="2.5"/>
<line x1="1197.5" y1="1505.62" x2="1213.5" y2="1505.62" stroke="#E0458E" stroke-width="2.5"/>
<polygon points="1205.5,1386.16 1199.5,1397.16 1211.5,1397.16" fill="none" stroke="#E0458E" stroke-width="3" stroke-linejoin="round"/>
<polygon points="1205.5,1455.55 1199.5,1466.55 1211.5,1466.55" fill="none" stroke="#E0458E" stroke-width="3" stroke-linejoin="round"/>
<polygon points="1205.5,1488.99 1199.5,1499.99 1211.5,1499.99" fill="none" stroke="#E0458E" stroke-width="3" stroke-linejoin="round"/>
<polygon points="1243.5,1584.12 1237.5,1573.12 1249.5,1573.12" fill="none" stroke="#5692C6" stroke-width="3" stroke-linejoin="round"/>
<polygon points="1251.5,1581.61 1245.5,1570.61 1257.5,1570.61" fill="none" stroke="#5692C6" stroke-width="3" stroke-linejoin="round"/>
<polygon points="1259.5,1587.46 1253.5,1576.46 1265.5,1576.46" fill="none" stroke="#5692C6" stroke-width="3" stroke-linejoin="round"/>
<line x1="1372" y1="1644.4" x2="1372" y2="1653.5" stroke="#000" stroke-width="3"/>
<rect x="1312" y="1560.8" width="29" height="83.6" fill="#8C8C8C"/>
<path d="M1313.5 1644.4 L1313.5 1562.3 L1339.5 1562.3 L1339.5 1644.4" fill="none" stroke="#000" stroke-width="3" stroke-linejoin="miter"/>
<rect x="1358" y="1428.71" width="29" height="215.69" fill="#F0A8CB"/>
<path d="M1359.5 1644.4 L1359.5 1430.21 L1385.5 1430.21 L1385.5 1644.4" fill="none" stroke="#000" stroke-width="3" stroke-linejoin="miter"/>
<rect x="1404" y="1572.5" width="29" height="71.9" fill="#5A8FBB"/>
<path d="M1405.5 1644.4 L1405.5 1574 L1431.5 1574 L1431.5 1644.4" fill="none" stroke="#000" stroke-width="3" stroke-linejoin="miter"/>
<circle cx="1326.5" cy="1554.95" r="6" fill="none" stroke="#000" stroke-width="3"/>
<circle cx="1317.5" cy="1563.31" r="6" fill="none" stroke="#000" stroke-width="3"/>
<circle cx="1335.5" cy="1563.31" r="6" fill="none" stroke="#000" stroke-width="3"/>
<line x1="1372.5" y1="1355.98" x2="1372.5" y2="1492.25" stroke="#E0458E" stroke-width="2.5"/>
<line x1="1364.5" y1="1355.98" x2="1380.5" y2="1355.98" stroke="#E0458E" stroke-width="2.5"/>
<line x1="1364.5" y1="1492.25" x2="1380.5" y2="1492.25" stroke="#E0458E" stroke-width="2.5"/>
<polygon points="1372.5,1349.38 1366.5,1360.38 1378.5,1360.38" fill="none" stroke="#E0458E" stroke-width="3" stroke-linejoin="round"/>
<polygon points="1372.5,1438.83 1366.5,1449.83 1378.5,1449.83" fill="none" stroke="#E0458E" stroke-width="3" stroke-linejoin="round"/>
<polygon points="1372.5,1477.29 1366.5,1488.29 1378.5,1488.29" fill="none" stroke="#E0458E" stroke-width="3" stroke-linejoin="round"/>
<polygon points="1410.5,1570.74 1404.5,1559.74 1416.5,1559.74" fill="none" stroke="#5692C6" stroke-width="3" stroke-linejoin="round"/>
<polygon points="1418.5,1570.74 1412.5,1559.74 1424.5,1559.74" fill="none" stroke="#5692C6" stroke-width="3" stroke-linejoin="round"/>
<polygon points="1426.5,1590.81 1420.5,1579.81 1432.5,1579.81" fill="none" stroke="#5692C6" stroke-width="3" stroke-linejoin="round"/>
<text x="1062" y="1391.61" font-size="28.5" text-anchor="middle">**</text>
<text x="1023.36" y="1407" font-size="20.87"><tspan font-style="italic">P</tspan><tspan> = 0.0026</tspan></text>
<line x1="1037" y1="1412" x2="1085" y2="1412" stroke="#000" stroke-width="2.2"/>
<text x="1232" y="1354.61" font-size="28.5" text-anchor="middle">***</text>
<text x="1190.36" y="1365" font-size="20.87"><tspan font-style="italic">P</tspan><tspan> = 0.0003</tspan></text>
<line x1="1204" y1="1376" x2="1252" y2="1376" stroke="#000" stroke-width="2.2"/>
<text x="1401" y="1319.61" font-size="28.5" text-anchor="middle">****</text>
<text x="1349.36" y="1333" font-size="20.9"><tspan font-style="italic">P</tspan><tspan> &lt; 0.0001</tspan></text>
<line x1="1372" y1="1341.6" x2="1419" y2="1341.6" stroke="#000" stroke-width="2.2"/>
<text x="1038.5" y="1680" font-size="25" text-anchor="middle" font-style="italic">PUT1</text>
<text x="1206" y="1680" font-size="25" text-anchor="middle" font-style="italic">GDH2</text>
<text x="1372" y="1680" font-size="25" text-anchor="middle" font-style="italic">PCK1</text>
</g>
<g>
<text x="1575.58" y="37" font-size="51" fill="#231815" font-weight="bold">H</text>
<line x1="1716.1" y1="133.95" x2="1716.1" y2="376.8" stroke="#000" stroke-width="2.6"/>
<line x1="1706.1" y1="375.5" x2="1717.4" y2="375.5" stroke="#000" stroke-width="2.6"/>
<text x="1664.97" y="383.2" font-size="25">0.0</text>
<line x1="1706.1" y1="327.29" x2="1717.4" y2="327.29" stroke="#000" stroke-width="2.6"/>
<text x="1665.03" y="334.99" font-size="25">0.3</text>
<line x1="1706.1" y1="279.08" x2="1717.4" y2="279.08" stroke="#000" stroke-width="2.6"/>
<text x="1665.03" y="286.78" font-size="25">0.6</text>
<line x1="1706.1" y1="230.87" x2="1717.4" y2="230.87" stroke="#000" stroke-width="2.6"/>
<text x="1665.08" y="238.57" font-size="25">0.9</text>
<line x1="1706.1" y1="182.66" x2="1717.4" y2="182.66" stroke="#000" stroke-width="2.6"/>
<text x="1664.65" y="190.36" font-size="25">1.2</text>
<line x1="1706.1" y1="134.45" x2="1717.4" y2="134.45" stroke="#000" stroke-width="2.6"/>
<text x="1664.55" y="142.15" font-size="25">1.5</text>
<line x1="1706.8" y1="375.5" x2="1957.6" y2="375.5" stroke="#000" stroke-width="2.6"/>
<line x1="1751.9" y1="375.5" x2="1751.9" y2="385" stroke="#000" stroke-width="2.6"/>
<line x1="1807.9" y1="375.5" x2="1807.9" y2="385" stroke="#000" stroke-width="2.6"/>
<line x1="1863.7" y1="375.5" x2="1863.7" y2="385" stroke="#000" stroke-width="2.6"/>
<line x1="1919.4" y1="375.5" x2="1919.4" y2="385" stroke="#000" stroke-width="2.6"/>
<rect x="1735.45" y="216.2" width="32.9" height="159.3" fill="#858585" stroke="#000" stroke-width="2.8"/>
<rect x="1791.45" y="330.3" width="32.9" height="45.2" fill="#FDD985" stroke="#000" stroke-width="2.8"/>
<rect x="1847.25" y="360.19" width="32.9" height="15.31" fill="#F28E85" stroke="#000" stroke-width="2.8"/>
<rect x="1902.95" y="368.54" width="32.9" height="6.96" fill="#8CD5F2" stroke="#000" stroke-width="2.8"/>
<line x1="1751.9" y1="189.89" x2="1751.9" y2="238.1" stroke="#000" stroke-width="2.6"/>
<line x1="1741.9" y1="189.89" x2="1761.9" y2="189.89" stroke="#000" stroke-width="2.6"/>
<line x1="1741.9" y1="238.1" x2="1761.9" y2="238.1" stroke="#000" stroke-width="2.6"/>
<circle cx="1751.9" cy="189.09" r="5.7" fill="#000"/>
<circle cx="1751.9" cy="214.8" r="5.7" fill="#000"/>
<circle cx="1751.9" cy="237.3" r="5.7" fill="#000"/>
<line x1="1807.9" y1="319.25" x2="1807.9" y2="330.5" stroke="#000" stroke-width="2.6"/>
<line x1="1797.9" y1="319.25" x2="1817.9" y2="319.25" stroke="#000" stroke-width="2.6"/>
<line x1="1797.9" y1="330.5" x2="1817.9" y2="330.5" stroke="#000" stroke-width="2.6"/>
<rect x="1790.15" y="313.5" width="11.5" height="11.5" fill="#000"/>
<rect x="1790.15" y="325.56" width="11.5" height="11.5" fill="#000"/>
<rect x="1814.65" y="323.15" width="11.5" height="11.5" fill="#000"/>
<line x1="1863.7" y1="354.61" x2="1863.7" y2="361.04" stroke="#000" stroke-width="2.6"/>
<line x1="1853.7" y1="354.61" x2="1873.7" y2="354.61" stroke="#000" stroke-width="2.6"/>
<line x1="1853.7" y1="361.04" x2="1873.7" y2="361.04" stroke="#000" stroke-width="2.6"/>
<polygon points="1851.7,354.22 1845.7,365.22 1857.7,365.22" fill="#000" stroke="#000" stroke-width="1.5" stroke-linejoin="round"/>
<polygon points="1863.7,346.99 1857.7,357.99 1869.7,357.99" fill="#000" stroke="#000" stroke-width="1.5" stroke-linejoin="round"/>
<polygon points="1875.7,351 1869.7,362 1881.7,362" fill="#000" stroke="#000" stroke-width="1.5" stroke-linejoin="round"/>
<polygon points="1907.4,371.07 1901.4,360.07 1913.4,360.07" fill="#000" stroke="#000" stroke-width="1.5" stroke-linejoin="round"/>
<polygon points="1919.4,371.39 1913.4,360.39 1925.4,360.39" fill="#000" stroke="#000" stroke-width="1.5" stroke-linejoin="round"/>
<polygon points="1931.4,371.07 1925.4,360.07 1937.4,360.07" fill="#000" stroke="#000" stroke-width="1.5" stroke-linejoin="round"/>
<text x="1643.5" y="266" font-size="24.2" text-anchor="middle" transform="rotate(-90 1643.5 266)"><tspan font-style="italic">GDH2/ACT1</tspan><tspan>(mRNA)</tspan></text>
<text x="1861.5" y="53.61" font-size="28.5" text-anchor="middle">***</text>
<text x="1792.36" y="65.7" font-size="20.81"><tspan font-style="italic">P</tspan><tspan> = 0.0004</tspan></text>
<line x1="1750" y1="74" x2="1915" y2="74" stroke="#000" stroke-width="2.2"/>
<text x="1816" y="104.61" font-size="28.5" text-anchor="middle">***</text>
<text x="1772.35" y="111.7" font-size="21.07"><tspan font-style="italic">P</tspan><tspan> = 0.0005</tspan></text>
<line x1="1750" y1="119" x2="1857.7" y2="119" stroke="#000" stroke-width="2.2"/>
<text x="1785" y="149.61" font-size="28.5" text-anchor="middle">**</text>
<text x="1739.36" y="161.6" font-size="20.69"><tspan font-style="italic">P</tspan><tspan> = 0.0014</tspan></text>
<line x1="1750" y1="171.7" x2="1820.7" y2="171.7" stroke="#000" stroke-width="2.2"/>
<text x="1757.7" y="407" font-size="25" text-anchor="end" transform="rotate(-45 1757.7 407)"><tspan>WT</tspan></text>
<text x="1813.7" y="407" font-size="25" text-anchor="end" transform="rotate(-45 1813.7 407)"><tspan font-style="italic">dal81Δ/Δ</tspan></text>
<text x="1869.5" y="407" font-size="25" text-anchor="end" transform="rotate(-45 1869.5 407)"><tspan font-style="italic">stp2Δ/Δ</tspan></text>
<text x="1925.2" y="407" font-size="25" text-anchor="end" transform="rotate(-45 1925.2 407)"><tspan font-style="italic">dal81Δ/Δstp2Δ/Δ</tspan></text>
</g>
<g>
<text x="1575.58" y="661.6" font-size="51" fill="#231815" font-weight="bold">I</text>
<line x1="1717.5" y1="717.85" x2="1717.5" y2="962.8" stroke="#000" stroke-width="2.6"/>
<line x1="1707.5" y1="961.5" x2="1718.8" y2="961.5" stroke="#000" stroke-width="2.6"/>
<text x="1666.47" y="969.2" font-size="25">0.0</text>
<line x1="1707.5" y1="912.87" x2="1718.8" y2="912.87" stroke="#000" stroke-width="2.6"/>
<text x="1666.53" y="920.57" font-size="25">0.3</text>
<line x1="1707.5" y1="864.24" x2="1718.8" y2="864.24" stroke="#000" stroke-width="2.6"/>
<text x="1666.53" y="871.94" font-size="25">0.6</text>
<line x1="1707.5" y1="815.61" x2="1718.8" y2="815.61" stroke="#000" stroke-width="2.6"/>
<text x="1666.58" y="823.31" font-size="25">0.9</text>
<line x1="1707.5" y1="766.98" x2="1718.8" y2="766.98" stroke="#000" stroke-width="2.6"/>
<text x="1666.15" y="774.68" font-size="25">1.2</text>
<line x1="1707.5" y1="718.35" x2="1718.8" y2="718.35" stroke="#000" stroke-width="2.6"/>
<text x="1666.05" y="726.05" font-size="25">1.5</text>
<line x1="1708.5" y1="961.5" x2="1961" y2="961.5" stroke="#000" stroke-width="2.6"/>
<line x1="1753.6" y1="961.5" x2="1753.6" y2="971" stroke="#000" stroke-width="2.6"/>
<line x1="1809.8" y1="961.5" x2="1809.8" y2="971" stroke="#000" stroke-width="2.6"/>
<line x1="1866.2" y1="961.5" x2="1866.2" y2="971" stroke="#000" stroke-width="2.6"/>
<line x1="1922.4" y1="961.5" x2="1922.4" y2="971" stroke="#000" stroke-width="2.6"/>
<rect x="1737.15" y="784.59" width="32.9" height="176.91" fill="#858585" stroke="#000" stroke-width="2.8"/>
<rect x="1793.35" y="938.58" width="32.9" height="22.92" fill="#FDD985" stroke="#000" stroke-width="2.8"/>
<rect x="1849.75" y="930.48" width="32.9" height="31.02" fill="#F28E85" stroke="#000" stroke-width="2.8"/>
<rect x="1905.95" y="949.12" width="32.9" height="12.38" fill="#8CD5F2" stroke="#000" stroke-width="2.8"/>
<line x1="1753.6" y1="750.77" x2="1753.6" y2="813.99" stroke="#000" stroke-width="2.6"/>
<line x1="1743.6" y1="750.77" x2="1763.6" y2="750.77" stroke="#000" stroke-width="2.6"/>
<line x1="1743.6" y1="813.99" x2="1763.6" y2="813.99" stroke="#000" stroke-width="2.6"/>
<circle cx="1753.6" cy="755.63" r="5.7" fill="#000"/>
<circle cx="1753.6" cy="771.84" r="5.7" fill="#000"/>
<circle cx="1753.6" cy="818.85" r="5.7" fill="#000"/>
<rect x="1792.05" y="934.68" width="11.5" height="11.5" fill="#000"/>
<rect x="1804.05" y="928.19" width="11.5" height="11.5" fill="#000"/>
<rect x="1816.05" y="931.43" width="11.5" height="11.5" fill="#000"/>
<line x1="1866.2" y1="916.11" x2="1866.2" y2="942.05" stroke="#000" stroke-width="2.6"/>
<line x1="1856.2" y1="916.11" x2="1876.2" y2="916.11" stroke="#000" stroke-width="2.6"/>
<line x1="1856.2" y1="942.05" x2="1876.2" y2="942.05" stroke="#000" stroke-width="2.6"/>
<polygon points="1854.2,938.47 1848.2,949.47 1860.2,949.47" fill="#000" stroke="#000" stroke-width="1.5" stroke-linejoin="round"/>
<polygon points="1866.2,909.29 1860.2,920.29 1872.2,920.29" fill="#000" stroke="#000" stroke-width="1.5" stroke-linejoin="round"/>
<polygon points="1878.2,927.12 1872.2,938.12 1884.2,938.12" fill="#000" stroke="#000" stroke-width="1.5" stroke-linejoin="round"/>
<polygon points="1910.4,952.11 1904.4,941.11 1916.4,941.11" fill="#000" stroke="#000" stroke-width="1.5" stroke-linejoin="round"/>
<polygon points="1922.4,951.3 1916.4,940.3 1928.4,940.3" fill="#000" stroke="#000" stroke-width="1.5" stroke-linejoin="round"/>
<polygon points="1934.4,952.11 1928.4,941.11 1940.4,941.11" fill="#000" stroke="#000" stroke-width="1.5" stroke-linejoin="round"/>
<text x="1643.5" y="852.5" font-size="24.2" text-anchor="middle" transform="rotate(-90 1643.5 852.5)"><tspan font-style="italic">PCK1/ACT1</tspan><tspan>(mRNA)</tspan></text>
<text x="1844" y="617.61" font-size="28.5" text-anchor="middle">***</text>
<text x="1791.36" y="628.8" font-size="20.87"><tspan font-style="italic">P</tspan><tspan> = 0.0008</tspan></text>
<line x1="1746" y1="637.5" x2="1922" y2="637.5" stroke="#000" stroke-width="2.2"/>
<text x="1814.5" y="668.11" font-size="28.5" text-anchor="middle">**</text>
<text x="1772.36" y="674.5" font-size="20.69"><tspan font-style="italic">P</tspan><tspan> = 0.0017</tspan></text>
<line x1="1746" y1="682.7" x2="1888.7" y2="682.7" stroke="#000" stroke-width="2.2"/>
<text x="1780" y="711.61" font-size="28.5" text-anchor="middle">**</text>
<text x="1734.36" y="724.3" font-size="20.79"><tspan font-style="italic">P</tspan><tspan> = 0.0010</tspan></text>
<line x1="1746" y1="734.7" x2="1815.5" y2="734.7" stroke="#000" stroke-width="2.2"/>
<text x="1759.4" y="993" font-size="25" text-anchor="end" transform="rotate(-45 1759.4 993)"><tspan>WT</tspan></text>
<text x="1815.6" y="993" font-size="25" text-anchor="end" transform="rotate(-45 1815.6 993)"><tspan font-style="italic">dal81Δ/Δ</tspan></text>
<text x="1872" y="993" font-size="25" text-anchor="end" transform="rotate(-45 1872 993)"><tspan font-style="italic">stp2Δ/Δ</tspan></text>
<text x="1928.2" y="993" font-size="25" text-anchor="end" transform="rotate(-45 1928.2 993)"><tspan font-style="italic">dal81Δ/Δstp2Δ/Δ</tspan></text>
</g>
<g>
<text x="1578.47" y="1284.6" font-size="51" fill="#231815" font-weight="bold">J</text>
<line x1="1715.6" y1="1297.85" x2="1715.6" y2="1541.3" stroke="#000" stroke-width="2.6"/>
<line x1="1705.6" y1="1540" x2="1716.9" y2="1540" stroke="#000" stroke-width="2.6"/>
<text x="1664.97" y="1547.7" font-size="25">0.0</text>
<line x1="1705.6" y1="1491.67" x2="1716.9" y2="1491.67" stroke="#000" stroke-width="2.6"/>
<text x="1665.03" y="1499.37" font-size="25">0.3</text>
<line x1="1705.6" y1="1443.34" x2="1716.9" y2="1443.34" stroke="#000" stroke-width="2.6"/>
<text x="1665.03" y="1451.04" font-size="25">0.6</text>
<line x1="1705.6" y1="1395.01" x2="1716.9" y2="1395.01" stroke="#000" stroke-width="2.6"/>
<text x="1665.08" y="1402.71" font-size="25">0.9</text>
<line x1="1705.6" y1="1346.68" x2="1716.9" y2="1346.68" stroke="#000" stroke-width="2.6"/>
<text x="1664.65" y="1354.38" font-size="25">1.2</text>
<line x1="1705.6" y1="1298.35" x2="1716.9" y2="1298.35" stroke="#000" stroke-width="2.6"/>
<text x="1664.55" y="1306.05" font-size="25">1.5</text>
<line x1="1707" y1="1540" x2="1956" y2="1540" stroke="#000" stroke-width="2.6"/>
<line x1="1751.7" y1="1540" x2="1751.7" y2="1549.5" stroke="#000" stroke-width="2.6"/>
<line x1="1807.3" y1="1540" x2="1807.3" y2="1549.5" stroke="#000" stroke-width="2.6"/>
<line x1="1863.5" y1="1540" x2="1863.5" y2="1549.5" stroke="#000" stroke-width="2.6"/>
<line x1="1919.4" y1="1540" x2="1919.4" y2="1549.5" stroke="#000" stroke-width="2.6"/>
<rect x="1733.85" y="1367.62" width="35.7" height="172.38" fill="#808080"/>
<rect x="1790.85" y="1456.02" width="32.9" height="83.98" fill="#FDD985" stroke="#000" stroke-width="2.8"/>
<rect x="1847.05" y="1472.13" width="32.9" height="67.87" fill="#F28E85" stroke="#000" stroke-width="2.8"/>
<rect x="1902.95" y="1521.26" width="32.9" height="18.74" fill="#8CD5F2" stroke="#000" stroke-width="2.8"/>
<line x1="1751.7" y1="1333.79" x2="1751.7" y2="1401.45" stroke="#7a7a7a" stroke-width="2.6"/>
<line x1="1741.7" y1="1333.79" x2="1761.7" y2="1333.79" stroke="#7a7a7a" stroke-width="2.6"/>
<line x1="1741.7" y1="1401.45" x2="1761.7" y2="1401.45" stroke="#7a7a7a" stroke-width="2.6"/>
<circle cx="1751.7" cy="1332.18" r="5.7" fill="#000"/>
<circle cx="1751.7" cy="1370.85" r="5.7" fill="#000"/>
<circle cx="1751.7" cy="1398.23" r="5.7" fill="#000"/>
<rect x="1789.55" y="1453.7" width="11.5" height="11.5" fill="#000"/>
<rect x="1801.55" y="1445.64" width="11.5" height="11.5" fill="#000"/>
<rect x="1813.55" y="1448.87" width="11.5" height="11.5" fill="#000"/>
<line x1="1863.5" y1="1464.28" x2="1863.5" y2="1477.17" stroke="#000" stroke-width="2.6"/>
<line x1="1853.5" y1="1464.28" x2="1873.5" y2="1464.28" stroke="#000" stroke-width="2.6"/>
<line x1="1853.5" y1="1477.17" x2="1873.5" y2="1477.17" stroke="#000" stroke-width="2.6"/>
<polygon points="1851.5,1467.13 1845.5,1478.13 1857.5,1478.13" fill="#000" stroke="#000" stroke-width="1.5" stroke-linejoin="round"/>
<polygon points="1863.5,1457.46 1857.5,1468.46 1869.5,1468.46" fill="#000" stroke="#000" stroke-width="1.5" stroke-linejoin="round"/>
<polygon points="1875.5,1463.91 1869.5,1474.91 1881.5,1474.91" fill="#000" stroke="#000" stroke-width="1.5" stroke-linejoin="round"/>
<line x1="1919.4" y1="1515.03" x2="1919.4" y2="1523.89" stroke="#000" stroke-width="2.6"/>
<line x1="1909.4" y1="1515.03" x2="1929.4" y2="1515.03" stroke="#000" stroke-width="2.6"/>
<line x1="1909.4" y1="1523.89" x2="1929.4" y2="1523.89" stroke="#000" stroke-width="2.6"/>
<polygon points="1907.4,1530.71 1901.4,1519.71 1913.4,1519.71" fill="#000" stroke="#000" stroke-width="1.5" stroke-linejoin="round"/>
<polygon points="1919.4,1521.85 1913.4,1510.85 1925.4,1510.85" fill="#000" stroke="#000" stroke-width="1.5" stroke-linejoin="round"/>
<polygon points="1931.4,1527.49 1925.4,1516.49 1937.4,1516.49" fill="#000" stroke="#000" stroke-width="1.5" stroke-linejoin="round"/>
<text x="1643.5" y="1431.8" font-size="24.2" text-anchor="middle" transform="rotate(-90 1643.5 1431.8)"><tspan font-style="italic">PUT1/ACT1</tspan><tspan>(mRNA)</tspan></text>
<text x="1846" y="1205.61" font-size="28.5" text-anchor="middle">**</text>
<text x="1795.36" y="1216.7" font-size="20.71"><tspan font-style="italic">P</tspan><tspan> = 0.0014</tspan></text>
<line x1="1745.7" y1="1225.7" x2="1933" y2="1225.7" stroke="#000" stroke-width="2.2"/>
<text x="1809" y="1256.31" font-size="28.5" text-anchor="middle">**</text>
<text x="1750.36" y="1262.7" font-size="20.9"><tspan font-style="italic">P</tspan><tspan> = 0.0061</tspan></text>
<line x1="1745.7" y1="1270.4" x2="1864.6" y2="1270.4" stroke="#000" stroke-width="2.2"/>
<text x="1782.5" y="1304.21" font-size="28.5" text-anchor="middle">*</text>
<text x="1734.36" y="1312" font-size="20.84"><tspan font-style="italic">P</tspan><tspan> = 0.0102</tspan></text>
<line x1="1745.7" y1="1322.4" x2="1815.5" y2="1322.4" stroke="#000" stroke-width="2.2"/>
<text x="1757.5" y="1571.5" font-size="25" text-anchor="end" transform="rotate(-45 1757.5 1571.5)"><tspan>WT</tspan></text>
<text x="1813.1" y="1571.5" font-size="25" text-anchor="end" transform="rotate(-45 1813.1 1571.5)"><tspan font-style="italic">dal81Δ/Δ</tspan></text>
<text x="1869.3" y="1571.5" font-size="25" text-anchor="end" transform="rotate(-45 1869.3 1571.5)"><tspan font-style="italic">stp2Δ/Δ</tspan></text>
<text x="1925.2" y="1571.5" font-size="25" text-anchor="end" transform="rotate(-45 1925.2 1571.5)"><tspan font-style="italic">dal81Δ/Δstp2Δ/Δ</tspan></text>
</g>
<g>
<text x="774.58" y="1775" font-size="51" fill="#231815" font-weight="bold">K</text>
<line x1="960" y1="1767.8" x2="960" y2="2033.9" stroke="#000" stroke-width="2.6"/>
<line x1="950" y1="2032.6" x2="961.3" y2="2032.6" stroke="#000" stroke-width="2.6"/>
<text x="908.67" y="2040.3" font-size="25">0.0</text>
<line x1="950" y1="1966.52" x2="961.3" y2="1966.52" stroke="#000" stroke-width="2.6"/>
<text x="908.73" y="1974.22" font-size="25">0.3</text>
<line x1="950" y1="1900.45" x2="961.3" y2="1900.45" stroke="#000" stroke-width="2.6"/>
<text x="908.73" y="1908.15" font-size="25">0.6</text>
<line x1="950" y1="1834.38" x2="961.3" y2="1834.38" stroke="#000" stroke-width="2.6"/>
<text x="908.78" y="1842.08" font-size="25">0.9</text>
<line x1="950" y1="1768.3" x2="961.3" y2="1768.3" stroke="#000" stroke-width="2.6"/>
<text x="908.35" y="1776" font-size="25">1.2</text>
<line x1="951.7" y1="2032.6" x2="1143" y2="2032.6" stroke="#000" stroke-width="2.6"/>
<line x1="997" y1="2032.6" x2="997" y2="2042.1" stroke="#000" stroke-width="2.6"/>
<line x1="1052" y1="2032.6" x2="1052" y2="2042.1" stroke="#000" stroke-width="2.6"/>
<line x1="1106.7" y1="2032.6" x2="1106.7" y2="2042.1" stroke="#000" stroke-width="2.6"/>
<rect x="980.55" y="1813.75" width="32.9" height="218.85" fill="#CCCCCC" stroke="#000" stroke-width="2.8"/>
<rect x="1035.55" y="1920.57" width="32.9" height="112.03" fill="#46C8C3" stroke="#000" stroke-width="2.8"/>
<rect x="1090.25" y="1954.71" width="32.9" height="77.89" fill="#D8297B" stroke="#000" stroke-width="2.8"/>
<line x1="997" y1="1790.99" x2="997" y2="1833.27" stroke="#000" stroke-width="2.6"/>
<line x1="986.5" y1="1790.99" x2="1007.5" y2="1790.99" stroke="#000" stroke-width="2.6"/>
<line x1="986.5" y1="1833.27" x2="1007.5" y2="1833.27" stroke="#000" stroke-width="2.6"/>
<circle cx="997" cy="1788.34" r="3.6" fill="#fff" stroke="#000" stroke-width="2.6"/>
<circle cx="997" cy="1817.86" r="5.7" fill="#000"/>
<circle cx="997" cy="1830.19" r="5.7" fill="#000"/>
<line x1="1052" y1="1914.77" x2="1052" y2="1922.47" stroke="#000" stroke-width="2.6"/>
<line x1="1041.5" y1="1914.77" x2="1062.5" y2="1914.77" stroke="#000" stroke-width="2.6"/>
<line x1="1041.5" y1="1922.47" x2="1062.5" y2="1922.47" stroke="#000" stroke-width="2.6"/>
<circle cx="1052" cy="1913" r="3.6" fill="#fff" stroke="#000" stroke-width="2.6"/>
<circle cx="1046" cy="1923.14" r="5.7" fill="#000"/>
<circle cx="1058" cy="1923.14" r="5.7" fill="#000"/>
<line x1="1106.7" y1="1947.36" x2="1106.7" y2="1958.82" stroke="#000" stroke-width="2.6"/>
<line x1="1096.2" y1="1947.36" x2="1117.2" y2="1947.36" stroke="#000" stroke-width="2.6"/>
<line x1="1096.2" y1="1958.82" x2="1117.2" y2="1958.82" stroke="#000" stroke-width="2.6"/>
<circle cx="1106.7" cy="1945.6" r="3.6" fill="#fff" stroke="#000" stroke-width="2.6"/>
<circle cx="1112.7" cy="1954.63" r="5.7" fill="#000"/>
<circle cx="1100.7" cy="1958.82" r="5.7" fill="#000"/>
<text x="888" y="1912.5" font-size="24.2" text-anchor="middle" transform="rotate(-90 888 1912.5)"><tspan font-style="italic">GDH2/ACT1</tspan><tspan>(mRNA)</tspan></text>
<text x="1027" y="1751.61" font-size="28.5" text-anchor="middle">***</text>
<text x="984.36" y="1760.7" font-size="20.79"><tspan font-style="italic">P</tspan><tspan> = 0.0001</tspan></text>
<line x1="997" y1="1771.4" x2="1053" y2="1771.4" stroke="#000" stroke-width="2.2"/>
<text x="1086" y="1881.61" font-size="28.5" text-anchor="middle">*</text>
<text x="1040.36" y="1891" font-size="20.87"><tspan font-style="italic">P</tspan><tspan> = 0.0435</tspan></text>
<line x1="1051.9" y1="1902" x2="1108" y2="1902" stroke="#000" stroke-width="2.2"/>
<text x="999.8" y="2070.6" font-size="25" text-anchor="end" transform="rotate(-45 999.8 2070.6)"><tspan>WT</tspan></text>
<text x="1054.8" y="2070.6" font-size="25" text-anchor="end" transform="rotate(-45 1054.8 2070.6)"><tspan font-style="italic">DAL81/dal81Δ</tspan></text>
<text x="1109.5" y="2070.6" font-size="25" text-anchor="end" transform="rotate(-45 1109.5 2070.6)"><tspan font-style="italic">DAL81m21/dal81Δ</tspan></text>
</g>
<g>
<text x="1260.28" y="1775.7" font-size="51" fill="#231815" font-weight="bold">L</text>
<line x1="1352.4" y1="1844" x2="1352.4" y2="2027" stroke="#000" stroke-width="2.6"/>
<line x1="1342.4" y1="2025.7" x2="1353.7" y2="2025.7" stroke="#000" stroke-width="2.6"/>
<text x="1300.47" y="2033.4" font-size="25">0.0</text>
<line x1="1342.4" y1="1965.3" x2="1353.7" y2="1965.3" stroke="#000" stroke-width="2.6"/>
<text x="1300.51" y="1973" font-size="25">0.5</text>
<line x1="1342.4" y1="1904.9" x2="1353.7" y2="1904.9" stroke="#000" stroke-width="2.6"/>
<text x="1300.01" y="1912.6" font-size="25">1.0</text>
<line x1="1342.4" y1="1844.5" x2="1353.7" y2="1844.5" stroke="#000" stroke-width="2.6"/>
<text x="1300.05" y="1852.2" font-size="25">1.5</text>
<line x1="1344" y1="2025.7" x2="1533" y2="2025.7" stroke="#000" stroke-width="2.6"/>
<line x1="1388.6" y1="2025.7" x2="1388.6" y2="2035.2" stroke="#000" stroke-width="2.6"/>
<line x1="1442.9" y1="2025.7" x2="1442.9" y2="2035.2" stroke="#000" stroke-width="2.6"/>
<line x1="1496.9" y1="2025.7" x2="1496.9" y2="2035.2" stroke="#000" stroke-width="2.6"/>
<rect x="1372.15" y="1906.3" width="32.9" height="119.4" fill="#CCCCCC" stroke="#000" stroke-width="2.8"/>
<rect x="1426.45" y="1964.28" width="32.9" height="61.42" fill="#1ABCB8" stroke="#000" stroke-width="2.8"/>
<rect x="1480.45" y="1989.65" width="32.9" height="36.05" fill="#D8297B" stroke="#000" stroke-width="2.8"/>
<line x1="1388.6" y1="1894.87" x2="1388.6" y2="1915.77" stroke="#000" stroke-width="2.6"/>
<line x1="1378.1" y1="1894.87" x2="1399.1" y2="1894.87" stroke="#000" stroke-width="2.6"/>
<line x1="1378.1" y1="1915.77" x2="1399.1" y2="1915.77" stroke="#000" stroke-width="2.6"/>
<circle cx="1388.6" cy="1892.82" r="3.6" fill="#fff" stroke="#000" stroke-width="2.6"/>
<circle cx="1388.6" cy="1910.94" r="5.7" fill="#000"/>
<circle cx="1388.6" cy="1913.96" r="5.7" fill="#000"/>
<circle cx="1436.9" cy="1957.33" r="5.7" fill="#000"/>
<circle cx="1436.9" cy="1967.35" r="5.7" fill="#000"/>
<line x1="1443.9" y1="1959.26" x2="1443.9" y2="1966.51" stroke="#000" stroke-width="2.6"/>
<line x1="1434.4" y1="1959.26" x2="1453.4" y2="1959.26" stroke="#000" stroke-width="2.6"/>
<line x1="1434.4" y1="1966.51" x2="1453.4" y2="1966.51" stroke="#000" stroke-width="2.6"/>
<circle cx="1490.9" cy="1981" r="5.7" fill="#000"/>
<circle cx="1490.9" cy="1992.24" r="5.7" fill="#000"/>
<line x1="1497.9" y1="1982.82" x2="1497.9" y2="1990.67" stroke="#000" stroke-width="2.6"/>
<line x1="1488.4" y1="1982.82" x2="1507.4" y2="1982.82" stroke="#000" stroke-width="2.6"/>
<line x1="1488.4" y1="1990.67" x2="1507.4" y2="1990.67" stroke="#000" stroke-width="2.6"/>
<text x="1280.9" y="1947" font-size="24.2" text-anchor="middle" transform="rotate(-90 1280.9 1947)"><tspan font-style="italic">PCK1/ACT1</tspan><tspan>(mRNA)</tspan></text>
<text x="1416" y="1854.61" font-size="28.5" text-anchor="middle">***</text>
<text x="1370.07" y="1864.4" font-size="20.62"><tspan font-style="italic">P</tspan><tspan> = 0.0001</tspan></text>
<line x1="1388.6" y1="1872" x2="1443.4" y2="1872" stroke="#000" stroke-width="2.2"/>
<text x="1473.5" y="1917.11" font-size="28.5" text-anchor="middle">*</text>
<text x="1428.77" y="1926.3" font-size="20.34"><tspan font-style="italic">P</tspan><tspan> = 0.0117</tspan></text>
<line x1="1442.6" y1="1935.7" x2="1498" y2="1935.7" stroke="#000" stroke-width="2.2"/>
<text x="1391.4" y="2063.7" font-size="25" text-anchor="end" transform="rotate(-45 1391.4 2063.7)"><tspan>WT</tspan></text>
<text x="1445.7" y="2063.7" font-size="25" text-anchor="end" transform="rotate(-45 1445.7 2063.7)"><tspan font-style="italic">DAL81/dal81Δ</tspan></text>
<text x="1499.7" y="2063.7" font-size="25" text-anchor="end" transform="rotate(-45 1499.7 2063.7)"><tspan font-style="italic">DAL81m21/dal81Δ</tspan></text>
</g>
<g>
<text x="1575.58" y="1775.7" font-size="51" fill="#231815" font-weight="bold">M</text>
<line x1="1716.3" y1="1839.7" x2="1716.3" y2="2025" stroke="#000" stroke-width="2.6"/>
<line x1="1706.3" y1="2023.7" x2="1717.6" y2="2023.7" stroke="#000" stroke-width="2.6"/>
<text x="1665.17" y="2031.4" font-size="25">0.0</text>
<line x1="1706.3" y1="1977.83" x2="1717.6" y2="1977.83" stroke="#000" stroke-width="2.6"/>
<text x="1665.21" y="1985.53" font-size="25">0.5</text>
<line x1="1706.3" y1="1931.95" x2="1717.6" y2="1931.95" stroke="#000" stroke-width="2.6"/>
<text x="1664.71" y="1939.65" font-size="25">1.0</text>
<line x1="1706.3" y1="1886.08" x2="1717.6" y2="1886.08" stroke="#000" stroke-width="2.6"/>
<text x="1664.75" y="1893.78" font-size="25">1.5</text>
<line x1="1706.3" y1="1840.2" x2="1717.6" y2="1840.2" stroke="#000" stroke-width="2.6"/>
<text x="1665.03" y="1847.9" font-size="25">2.0</text>
<line x1="1707.8" y1="2023.7" x2="1899.5" y2="2023.7" stroke="#000" stroke-width="2.6"/>
<line x1="1753" y1="2023.7" x2="1753" y2="2033.2" stroke="#000" stroke-width="2.6"/>
<line x1="1808" y1="2023.7" x2="1808" y2="2033.2" stroke="#000" stroke-width="2.6"/>
<line x1="1862.8" y1="2023.7" x2="1862.8" y2="2033.2" stroke="#000" stroke-width="2.6"/>
<rect x="1736.55" y="1933.35" width="32.9" height="90.35" fill="#CCCCCC" stroke="#000" stroke-width="2.8"/>
<rect x="1791.55" y="1937.02" width="32.9" height="86.68" fill="#1ABCB8" stroke="#000" stroke-width="2.8"/>
<rect x="1846.35" y="1927.85" width="32.9" height="95.86" fill="#D8297B" stroke="#000" stroke-width="2.8"/>
<line x1="1753" y1="1918.19" x2="1753" y2="1945.99" stroke="#000" stroke-width="2.6"/>
<line x1="1742.6" y1="1918.19" x2="1763.4" y2="1918.19" stroke="#000" stroke-width="2.6"/>
<line x1="1742.6" y1="1945.99" x2="1763.4" y2="1945.99" stroke="#000" stroke-width="2.6"/>
<circle cx="1753" cy="1915.89" r="6.1" fill="none" stroke="#000" stroke-width="2.8"/>
<circle cx="1741" cy="1941.12" r="6.1" fill="none" stroke="#000" stroke-width="2.8"/>
<circle cx="1765.5" cy="1938.01" r="6.1" fill="none" stroke="#000" stroke-width="2.8"/>
<line x1="1808" y1="1932.87" x2="1808" y2="1939.29" stroke="#000" stroke-width="2.6"/>
<line x1="1799" y1="1932.87" x2="1817" y2="1932.87" stroke="#000" stroke-width="2.6"/>
<line x1="1799" y1="1939.29" x2="1817" y2="1939.29" stroke="#000" stroke-width="2.6"/>
<circle cx="1796" cy="1939.84" r="6.1" fill="none" stroke="#000" stroke-width="2.8"/>
<circle cx="1808" cy="1931.03" r="6.1" fill="none" stroke="#000" stroke-width="2.8"/>
<circle cx="1821" cy="1936.72" r="6.1" fill="none" stroke="#000" stroke-width="2.8"/>
<line x1="1862.8" y1="1873.69" x2="1862.8" y2="1976.91" stroke="#000" stroke-width="2.6"/>
<line x1="1852.4" y1="1873.69" x2="1873.2" y2="1873.69" stroke="#000" stroke-width="2.6"/>
<line x1="1852.4" y1="1976.91" x2="1873.2" y2="1976.91" stroke="#000" stroke-width="2.6"/>
<circle cx="1862.8" cy="1868.64" r="6.1" fill="none" stroke="#000" stroke-width="2.8"/>
<circle cx="1862.8" cy="1938.37" r="6.1" fill="none" stroke="#000" stroke-width="2.8"/>
<circle cx="1862.8" cy="1969.93" r="6.1" fill="none" stroke="#000" stroke-width="2.8"/>
<text x="1643.5" y="1945" font-size="24.2" text-anchor="middle" transform="rotate(-90 1643.5 1945)"><tspan font-style="italic">PUT1/ACT1</tspan><tspan>(mRNA)</tspan></text>
<text x="1782" y="1891" font-size="24" text-anchor="middle">ns</text>
<line x1="1752.5" y1="1898.8" x2="1809" y2="1898.8" stroke="#000" stroke-width="2.2"/>
<text x="1838.5" y="1835" font-size="28" text-anchor="middle">ns</text>
<line x1="1807" y1="1844" x2="1863.8" y2="1844" stroke="#000" stroke-width="2.2"/>
<text x="1755.8" y="2061.7" font-size="25" text-anchor="end" transform="rotate(-45 1755.8 2061.7)"><tspan>WT</tspan></text>
<text x="1810.8" y="2061.7" font-size="25" text-anchor="end" transform="rotate(-45 1810.8 2061.7)"><tspan font-style="italic">DAL81/dal81Δ</tspan></text>
<text x="1865.6" y="2061.7" font-size="25" text-anchor="end" transform="rotate(-45 1865.6 2061.7)"><tspan font-style="italic">DAL81m21/dal81Δ</tspan></text>
</g>
</svg>
</body></html>
